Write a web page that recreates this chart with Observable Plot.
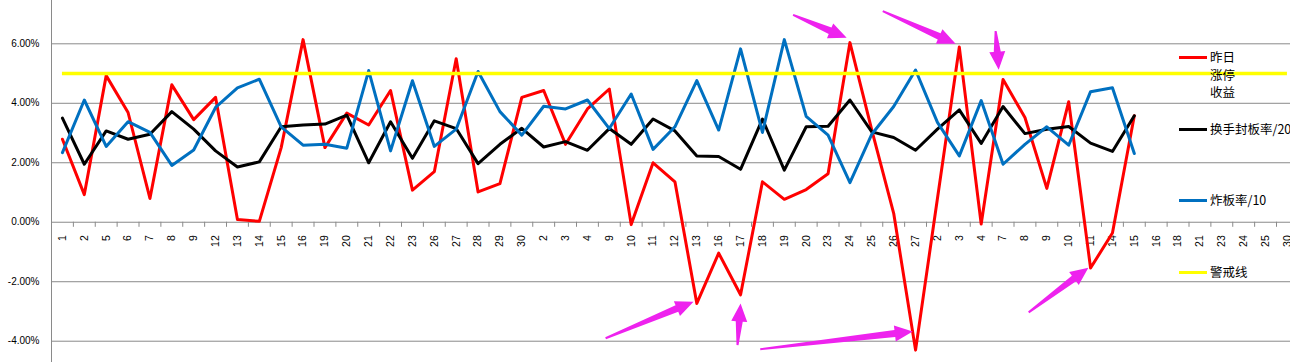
<!DOCTYPE html>
<html><head><meta charset="utf-8">
<script src="https://cdn.jsdelivr.net/npm/d3@7"></script>
<script src="https://cdn.jsdelivr.net/npm/@observablehq/plot@0.6"></script>
<style>
body{margin:0;background:#fff;}
#wrap{position:relative;width:1290px;height:362px;overflow:hidden;background:#fff;}
.sw{position:absolute;left:1179px;width:28px;height:3px;}
.lt{position:absolute;left:1210px;font-family:"Noto Sans CJK SC","Noto Sans",sans-serif;font-size:12.5px;line-height:17.5px;color:#000;white-space:nowrap;}
</style></head><body><div id="wrap"></div>
<script>
const dayLabels = ["1","2","5","6","7","8","9","12","13","14","15","16","19","20","21","22","23","26","27","28","29","30",
  "2","3","4","9","10","11","12","13","16","17","18","19","20","23","24","25","26","27",
  "2","3","4","7","8","9","10","11","14","15","16","18","21","23","24","25","30"];
const redValues = [2.79,0.93,4.93,3.69,0.80,4.62,3.45,4.20,0.09,0.03,
  2.51,6.14,2.51,3.67,3.27,4.43,1.08,1.70,5.50,1.02,
  1.30,4.20,4.43,2.62,3.81,4.48,-0.08,2.00,1.36,-2.73,
  -1.04,-2.44,1.36,0.77,1.10,1.63,6.04,3.10,0.30,-4.30,
  0.80,5.89,-0.06,4.80,3.52,1.14,4.05,-1.54,-0.36,3.58];
const blackValues = [3.50,1.95,3.07,2.79,2.96,3.72,3.13,2.40,1.86,2.03,
  3.21,3.27,3.30,3.60,2.00,3.38,2.15,3.41,3.15,1.97,
  2.62,3.16,2.53,2.71,2.42,3.15,2.62,3.47,3.07,2.23,
  2.21,1.78,3.47,1.75,3.21,3.23,4.11,3.04,2.85,2.42,
  3.13,3.78,2.65,3.89,2.98,3.13,3.22,2.66,2.38,3.58];
const blueValues = [2.34,4.11,2.55,3.38,3.02,1.91,2.43,3.86,4.52,4.81,
  3.21,2.59,2.62,2.49,5.10,2.40,4.76,2.55,3.13,5.07,
  3.72,2.93,3.90,3.81,4.11,3.15,4.31,2.45,3.21,4.76,
  3.10,5.83,3.02,6.14,3.56,2.93,1.33,2.96,3.89,5.12,
  3.36,2.23,4.09,1.95,2.62,3.21,2.59,4.39,4.52,2.31];
const warnLevel = 5;
const yTicks = [-4,-2,0,2,4,6];
const seriesNames = ["昨日涨停收益","换手封板率/20","炸板率/10","警戒线"];
// annotation arrows: tail (x1,y1) -> tip (x2,y2), in category index / percent units
const arrows = [
  {x1:24.83,y1:-3.90,x2:28.85,y2:-2.67},
  {x1:30.86,y1:-4.13,x2:31.00,y2:-2.73},
  {x1:31.90,y1:-4.27,x2:38.87,y2:-3.67},
  {x1:33.40,y1:6.97,x2:35.85,y2:6.20},
  {x1:37.50,y1:7.10,x2:40.83,y2:6.00},
  {x1:42.66,y1:6.43,x2:42.80,y2:5.13},
  {x1:44.17,y1:-3.03,x2:46.90,y2:-1.53}
];

const W = 1290, H = 362, ML = 51;
const xDomain = [-0.5, -0.5 + (W - ML) / 21.875];
const yDomain = [-4.716, 7.456];
const xs = Plot.scale({x:{domain:xDomain, range:[ML, W]}});
const ys = Plot.scale({y:{domain:yDomain, range:[H, 0]}});

// build tapered arrow polygons in pixel space, then back to data units
const arrowPts = [];
arrows.forEach((a,k) => {
  const tx = xs.apply(a.x1), ty = ys.apply(a.y1), px = xs.apply(a.x2), py = ys.apply(a.y2);
  const dx = px - tx, dy = py - ty, len = Math.hypot(dx, dy);
  const ux = dx/len, uy = dy/len, nx = -uy, ny = ux;
  const hl = Math.min(18, len*0.55), hw = 8, sw0 = 1, sw1 = 3.5;
  const bx = px - ux*hl, by = py - uy*hl;
  const pts = [[tx+nx*sw0,ty+ny*sw0],[bx+nx*sw1,by+ny*sw1],[bx+nx*hw,by+ny*hw],[px,py],
               [bx-nx*hw,by-ny*hw],[bx-nx*sw1,by-ny*sw1],[tx-nx*sw0,ty-ny*sw0]];
  pts.forEach(p => arrowPts.push({k, x: xs.invert(p[0]), y: ys.invert(p[1])}));
});

const idx = (d,i) => i;
const boundaries = dayLabels.map((d,i) => i - 0.5).concat([dayLabels.length - 0.5]);
const grid = "#8a8a8a";

const chart = Plot.plot({
  width: W, height: H,
  marginLeft: ML, marginRight: 0, marginTop: 0, marginBottom: 0,
  x: {domain: xDomain, axis: null, label: null},
  y: {domain: yDomain, axis: null, label: null},
  style: {background: "#fff", fontFamily: "'Liberation Sans', Arial, sans-serif"},
  marks: [
    Plot.ruleY(yTicks, {stroke: grid, strokeWidth: 1}),
    Plot.ruleX([-0.5], {stroke: grid, strokeWidth: 1}),
    Plot.ruleX(boundaries, {x: d => d, y1: 0, y2: -0.17, stroke: grid, strokeWidth: 1}),
    Plot.text(dayLabels, {x: idx, y: 0, text: d => d, rotate: -90, textAnchor: "end", lineAnchor: "middle", dy: 13, fontSize: 10.5, fill: "#000"}),
    Plot.axisY({ticks: yTicks, tickSize: 0, tickPadding: 12, tickFormat: d => d.toFixed(2) + "%", fontSize: 10, fill: "#000", label: null}),
    Plot.lineY(redValues, {x: idx, y: d => d, stroke: "#ff0000", strokeWidth: 3}),
    Plot.lineY(blackValues, {x: idx, y: d => d, stroke: "#000000", strokeWidth: 3}),
    Plot.lineY(blueValues, {x: idx, y: d => d, stroke: "#0070c0", strokeWidth: 3}),
    Plot.ruleY([warnLevel], {x1: 0, x2: dayLabels.length - 1, stroke: "#ffff00", strokeWidth: 3.5}),
    Plot.line(arrowPts, {x: "x", y: "y", z: "k", fill: "#ee22ee", stroke: "none", curve: "linear-closed"})
  ]
});

const wrap = document.getElementById("wrap");
wrap.appendChild(chart);

const legend = [
  {name: seriesNames[0], color: "#ff0000", y: 57, lines: ["昨日","涨停","收益"]},
  {name: seriesNames[1], color: "#000000", y: 129, lines: [seriesNames[1]]},
  {name: seriesNames[2], color: "#0070c0", y: 200, lines: [seriesNames[2]]},
  {name: seriesNames[3], color: "#ffff00", y: 272, lines: [seriesNames[3]]}
];
legend.forEach(l => {
  const s = document.createElement("div");
  s.className = "sw"; s.style.top = (l.y - 1.5) + "px"; s.style.background = l.color;
  wrap.appendChild(s);
  const t = document.createElement("div");
  t.className = "lt"; t.style.top = (l.y - 9) + "px";
  t.innerHTML = l.lines.join("<br>");
  wrap.appendChild(t);
});
</script></body></html>
